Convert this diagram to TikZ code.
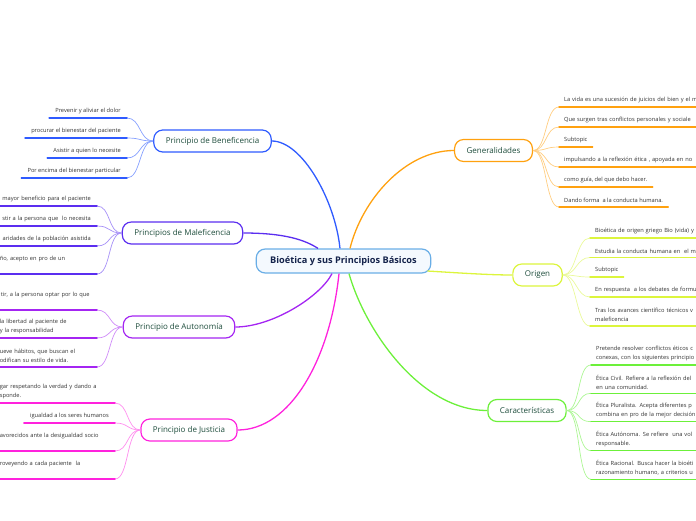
\documentclass[tikz,border=0pt]{standalone}
\usepackage{fontspec}
\setmainfont{Open Sans}
\definecolor{rootline}{HTML}{6AAEE6}
\definecolor{rootfill}{HTML}{F4F9FE}
\definecolor{roottext}{HTML}{14234B}
\definecolor{topictext}{HTML}{1E4D3C}
\definecolor{leaftext}{HTML}{333333}
\definecolor{benC}{HTML}{2F5BFF}
\definecolor{benL}{HTML}{86A0FF}
\definecolor{malC}{HTML}{5B2EF0}
\definecolor{malL}{HTML}{A690F7}
\definecolor{autC}{HTML}{A425F2}
\definecolor{autL}{HTML}{CF8CF8}
\definecolor{jusC}{HTML}{FF22DD}
\definecolor{jusL}{HTML}{FF8EEE}
\definecolor{genC}{HTML}{FFA10F}
\definecolor{genL}{HTML}{FFCD80}
\definecolor{oriC}{HTML}{DCF53C}
\definecolor{oriL}{HTML}{EAF99A}
\definecolor{carC}{HTML}{6CF03A}
\definecolor{carL}{HTML}{ACF694}
\begin{document}
\begin{tikzpicture}[x=1pt,y=-1pt,
  root/.style={draw=rootline,fill=rootfill,line width=1.2pt,rounded corners=9pt,
    minimum height=24pt,inner xsep=14pt,text=roottext,font=\fontsize{9.2}{11}\selectfont\bfseries},
  topic/.style={draw=#1,fill=white,line width=1.2pt,rounded corners=9pt,
    minimum height=22pt,inner xsep=12pt,text=topictext,font=\fontsize{8}{10}\selectfont},
  leaf/.style={inner xsep=6pt,inner ysep=4pt,text=leaftext,font=\fontsize{5.7}{9}\selectfont},
  leafL/.style={leaf,anchor=south east,align=right},
  leafR/.style={leaf,inner xsep=5pt,anchor=south west,align=left},
  wide/.style={text width=#1},
  branch/.style={line width=1.3pt},
  twig/.style={line width=0.7pt},
  under/.style={line width=1.5pt,line cap=round}]
\useasboundingbox (0,0) rectangle (696,520);
\clip (0,0) rectangle (696,520);

% center and main topics
\node[root] (root) at (343.5,261) {Bioética y sus Principios Básicos};
\node[topic=benC] (ben) at (212.5,141) {Principio de Beneficencia};
\node[topic=malC] (mal) at (182.5,233) {Principios de Maleficencia};
\node[topic=autC] (aut) at (179,327) {Principio de Autonomía};
\node[topic=jusC] (jus) at (189,430) {Principio de Justicia};
\node[topic=genC] (gen) at (493.5,150.5) {Generalidades};
\node[topic=oriC] (ori) at (537.5,275) {Origen};
\node[topic=carC] (car) at (527,410.5) {Características};

\draw[branch,benC] ([xshift=-3.5pt]root.north) .. controls (335,200) and (302,141) .. (ben.east);
\draw[branch,malC] ([xshift=-25.5pt]root.north) .. controls (305,240) and (285,233) .. (mal.east);
\draw[branch,autC] ([xshift=-11.5pt]root.south) .. controls (320,297) and (272,327) .. (aut.east);
\draw[branch,jusC] ([xshift=-4.5pt]root.south) .. controls (330,360) and (290,430) .. (jus.east);
\draw[branch,genC] ([xshift=6.5pt]root.north) .. controls (362,200) and (405,150.5) .. (gen.west);
\draw[branch,oriC] ([xshift=-4pt,yshift=-10pt]root.east) .. controls (460,273) and (490,275) .. (ori.west);
\draw[branch,carC] ([xshift=5.5pt]root.south) .. controls (365,330) and (420,410.5) .. (car.west);

% Beneficencia
\node[leafL] (b1) at (127,118) {Prevenir y aliviar el dolor};
\node[leafL] (b2) at (127,138) {procurar el bienestar del paciente};
\node[leafL] (b3) at (127,158) {Asistir a quien lo necesite};
\node[leafL] (b4) at (127,178) {Por encima del bienestar particular};
\foreach \n in {b1,b2,b3,b4}{
  \draw[twig,benL] (ben.west) .. controls +(-14,0) and +(14,0) .. (\n.south east);
  \draw[under,benC] (\n.south west) -- (\n.south east);
}

% Maleficencia
\node[leafL,wide=100pt] (m1) at (97,206) {mayor beneficio para el paciente};
\node[leafL,wide=100pt] (m2) at (97,226) {stir a la persona que~ lo necesita};
\node[leafL,wide=100pt] (m3) at (97,246) {aridades de la población asistida};
\node[leafL,wide=91pt,align=left] (m4) at (97,274) {ño, acepto en pro de un\\~};
\foreach \n in {m1,m2,m3,m4}{
  \draw[twig,malL] (mal.west) .. controls +(-14,0) and +(14,0) .. (\n.south east);
  \draw[under,malC] (\n.south west) -- (\n.south east);
}

% Autonomia
\node[leafL,wide=90pt,align=left] (a1) at (97,310) {\mbox{tir, a la persona optar por lo que}\\~};
\node[leafL,wide=91pt,align=left] (a2) at (97,338) {la libertad al paciente de\\y la responsabilidad};
\node[leafL,wide=91pt,align=left] (a3) at (97,367) {ueve hábitos, que buscan el\\odifican su estilo de vida.};
\foreach \n in {a1,a2,a3}{
  \draw[twig,autL] (aut.west) .. controls +(-14,0) and +(14,0) .. (\n.south east);
  \draw[under,autC] (\n.south west) -- (\n.south east);
}

% Justicia
\node[leafL,wide=109pt,align=left] (j1) at (115,403) {gar respetando la verdad y dando a\\sponde.};
\node[leafL] (j2) at (115,423) {igualdad a los seres humanos};
\node[leafL,wide=109pt,align=left] (j3) at (115,451) {avorecidos ante la desigualdad socio\\~};
\node[leafL,wide=109pt,align=left] (j4) at (115,479) {roveyendo a cada paciente~ la\\~};
\foreach \n in {j1,j2,j3,j4}{
  \draw[twig,jusL] (jus.west) .. controls +(-14,0) and +(14,0) .. (\n.south east);
  \draw[under,jusC] (\n.south west) -- (\n.south east);
}

% Generalidades
\node[leafR,wide=140pt] (g1) at (559,107) {La vida es una sucesión de juicios del bien y el m};
\node[leafR,wide=140pt] (g2) at (559,127) {Que surgen tras conflictos personales y sociale};
\node[leafR] (g3) at (559,147) {Subtopic};
\node[leafR,wide=140pt] (g4) at (559,167) {impulsando a la reflexión ética , apoyada en no};
\node[leafR] (g5) at (559,187) {como guía, del que debo hacer.};
\node[leafR] (g6) at (559,207) {Dando forma~ a la conducta humana.};
\foreach \n in {g1,g2,g3,g4,g5,g6}{
  \draw[twig,genL] (gen.east) .. controls +(14,0) and +(-14,0) .. (\n.south west);
  \draw[under,genC] (\n.south west) -- (\n.south east);
}

% Origen
\node[leafR,wide=110pt] (o1) at (590,238) {Bioética de origen griego Bio (vida) y};
\node[leafR,wide=110pt] (o2) at (590,257.5) {Estudia la conducta humana en~ el m};
\node[leafR] (o3) at (590,277) {Subtopic};
\node[leafR,wide=110pt] (o4) at (590,297) {En respuesta~ a los debates de formu};
\node[leafR,wide=110pt] (o5) at (590,326) {Tras los avances científico técnicos v\\maleficencia};
\foreach \n in {o1,o2,o3,o4,o5}{
  \draw[twig,oriL] (ori.east) .. controls +(14,0) and +(-14,0) .. (\n.south west);
  \draw[under,oriC] (\n.south west) -- (\n.south east);
}

% Caracteristicas
\node[leafR,wide=110pt] (k1) at (591,365) {Pretende resolver conflictos éticos c\\conexas, con los siguientes principio};
\node[leafR,wide=110pt] (k2) at (591,393.3) {Ética Civil. Refiere a la reflexión del\\en una comunidad.};
\node[leafR,wide=110pt] (k3) at (591,421.7) {Ética Pluralista. Acepta diferentes p\\combina en pro de la mejor decisión};
\node[leafR,wide=110pt] (k4) at (591,450.7) {Ética Autónoma. Se refiere~ una vol\\responsable.};
\node[leafR,wide=110pt] (k5) at (591,479.3) {Ética Racional. Busca hacer la bioéti\\razonamiento humano, a criterios u};
\foreach \n in {k1,k2,k3,k4,k5}{
  \draw[twig,carL] (car.east) .. controls +(14,0) and +(-14,0) .. (\n.south west);
  \draw[under,carC] (\n.south west) -- (\n.south east);
}
\end{tikzpicture}
\end{document}
